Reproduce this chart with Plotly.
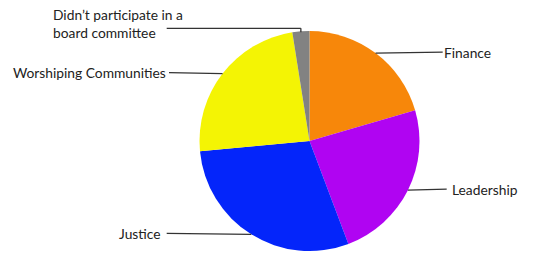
import math
import plotly.graph_objects as go

labels = ["Finance", "Leadership", "Justice", "Worshiping Communities",
          "Didn\u2019t participate in a board committee"]
values = [20.5, 23.75, 29.25, 24.0, 2.5]
colors = ["#F7870A", "#B004F2", "#0425FA", "#F4F404", "#828282"]
label_texts = ["Finance", "Leadership", "Justice", "Worshiping Communities",
               "Didn\u2019t participate in a<br>board committee"]

W, H = 534, 254
CX, CY, R = 309.5, 141.0, 110.0

def px(x):
    return x / W

def py(y):
    return 1 - y / H

fig = go.Figure(go.Pie(
    labels=labels, values=values, sort=False, direction="clockwise", rotation=0,
    marker=dict(colors=colors, line=dict(width=0)),
    textinfo="none", hoverinfo="label+percent", showlegend=False,
    domain=dict(x=[px(CX - R), px(CX + R)], y=[py(CY + R), py(CY - R)]),
))

# leader line layout: (line end x, text x, anchor)
layout_spec = [
    (442.7, 441.5, "left"),
    (446.7, 449.5, "left"),
    (166.7, 163.0, "right"),
    (169.0, 168.0, "right"),
    (166.7, 50.5, "left"),
]

total = sum(values)
cum = 0.0
shapes = []
annotations = []
font = dict(family="Lato, Open Sans, sans-serif", size=13.8, color="#222222")
for i, v in enumerate(values):
    mid = (cum + v / 2) / total * 2 * math.pi
    cum += v
    ex = CX + R * math.sin(mid)
    ey = CY - R * math.cos(mid)
    lx, tx, anchor = layout_spec[i]
    line = dict(color="#333333", width=1.3)
    if i == 4:
        ly = ey - 3
        shapes.append(dict(type="line", xref="paper", yref="paper",
                           x0=px(lx), y0=py(ly), x1=px(ex), y1=py(ly), line=line))
        shapes.append(dict(type="line", xref="paper", yref="paper",
                           x0=px(ex), y0=py(ly), x1=px(ex), y1=py(ey + 1), line=line))
        annotations.append(dict(x=px(tx), y=py(23), xref="paper", yref="paper",
                                text=label_texts[i], showarrow=False, xanchor="left",
                                yanchor="middle", align="left", font=font))
    else:
        ly = ey - 1
        shapes.append(dict(type="line", xref="paper", yref="paper",
                           x0=px(lx), y0=py(ly), x1=px(ex), y1=py(ey), line=line))
        annotations.append(dict(x=px(tx), y=py(ly), xref="paper", yref="paper",
                                text=label_texts[i], showarrow=False, xanchor=anchor,
                                yanchor="middle", font=font))

fig.update_layout(
    width=W, height=H, margin=dict(l=0, r=0, t=0, b=0),
    paper_bgcolor="white", plot_bgcolor="white",
    shapes=shapes, annotations=annotations,
)
fig.write_html("out.html", config={"displayModeBar": False},
               post_script="document.body.style.margin='0';document.body.style.overflow='hidden';")
